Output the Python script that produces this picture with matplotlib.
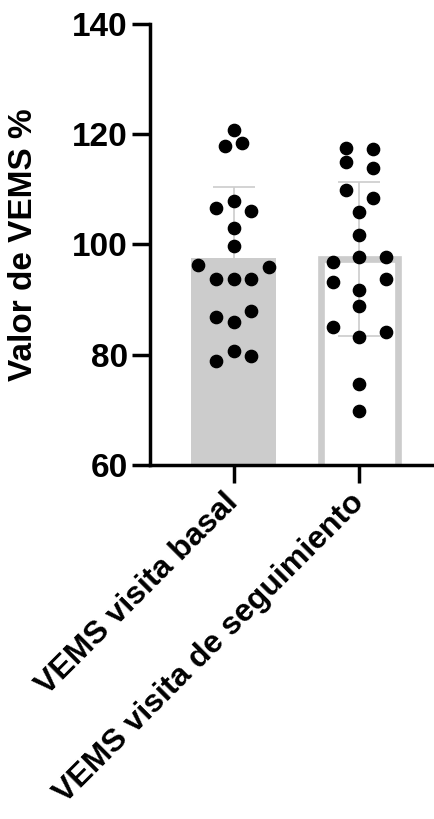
import matplotlib.pyplot as plt
import numpy as np

# FEV1 (VEMS) percent values per visit
categories = ['VEMS visita basal', 'VEMS visita de seguimiento']
basal = [120.8, 117.9, 118.3, 107.8, 106.7, 106.0, 102.9, 99.7, 96.2, 95.9,
         93.8, 93.8, 93.8, 86.8, 85.9, 87.9, 78.9, 80.7, 79.8]
seguimiento = [117.4, 117.3, 114.9, 113.9, 109.9, 108.4, 105.9, 101.7, 97.8, 97.8,
               96.8, 93.2, 93.8, 91.7, 88.8, 85.1, 83.3, 84.1, 74.7, 69.8]

# horizontal scatter offsets for the dot columns
off_basal = [0, -0.07, 0.07, 0, -0.14, 0.14, 0, 0, -0.285, 0.285,
             -0.14, 0, 0.14, -0.14, 0, 0.14, -0.14, 0, 0.14]
off_seg = [-0.105, 0.105, -0.105, 0.105, -0.105, 0.105, 0, 0, 0, 0.21,
           -0.21, -0.21, 0.21, 0, 0, -0.21, 0, 0.21, 0, 0]

plt.rcParams['font.family'] = ['Liberation Sans', 'DejaVu Sans']
plt.rcParams['font.weight'] = 'bold'

fig = plt.figure(figsize=(4.35, 8.19), dpi=100)
ax = fig.add_axes([0.345, 0.432, 0.655, 0.539])

grey = '#cccccc'
groups = [np.array(basal), np.array(seguimiento)]
means = [g.mean() for g in groups]
sds = [g.std(ddof=1) for g in groups]

ax.bar(0, means[0], width=0.67, color=grey, edgecolor='none', zorder=1)
ax.bar(1, means[1], width=0.61, color='white', edgecolor=grey, linewidth=4.8, zorder=1)

for i in range(2):
    ax.errorbar(i, means[i], yerr=sds[i], color=grey, elinewidth=1.2,
                capsize=15, capthick=1.2, zorder=2)

ax.scatter(0 + np.array(off_basal), basal, s=78, color='black', zorder=3)
ax.scatter(1 + np.array(off_seg), seguimiento, s=78, color='black', zorder=3)

ax.set_ylim(60, 140)
ax.set_xlim(-0.663, 1.6)
ax.set_yticks([60, 80, 100, 120, 140])
ax.set_xticks([0, 1])
ax.set_xticklabels(categories, rotation=45, ha='right', va='center',
                   rotation_mode='anchor', fontsize=23)

for s in ['top', 'right']:
    ax.spines[s].set_visible(False)
for s in ['left', 'bottom']:
    ax.spines[s].set_linewidth(2.5)

ax.tick_params(axis='both', length=13, width=2.5, pad=3)
ax.tick_params(axis='y', labelsize=24)
ax.tick_params(axis='x', pad=11)
ax.set_ylabel('Valor de VEMS %', fontsize=24, fontweight='bold')
ax.yaxis.set_label_coords(-0.39, 0.5)

fig.savefig('out.png', dpi=100)
